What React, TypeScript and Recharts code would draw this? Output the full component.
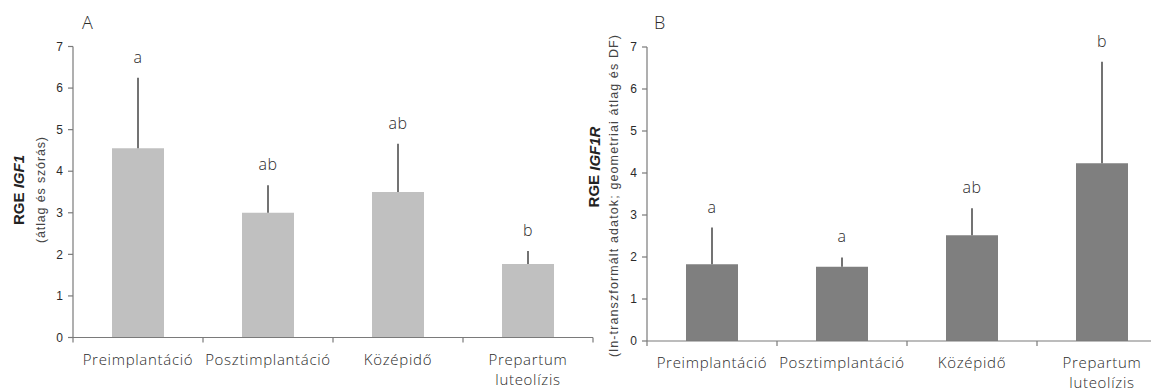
import React from "react";
import { BarChart, Bar, XAxis, YAxis, ErrorBar, LabelList, Label } from "recharts";

// Shared categories (line break marks a two-line tick label)
const categories = ["Preimplantáció", "Posztimplantáció", "Középidő", "Prepartum\nluteolízis"];
const yTicks = [0, 1, 2, 3, 4, 5, 6, 7];

// Panel A: IGF1 relative gene expression (mean and SD)
const igf1Mean = [4.55, 3.0, 3.5, 1.77];
const igf1Sd = [1.7, 0.66, 1.16, 0.31];
const igf1Letters = ["a", "ab", "ab", "b"];

// Panel B: IGF1R relative gene expression (geometric mean and upper DF)
const igf1rMean = [1.83, 1.77, 2.52, 4.23];
const igf1rUpper = [0.87, 0.22, 0.64, 2.42];
const igf1rLetters = ["a", "a", "ab", "b"];

const dataA = categories.map((c, i) => ({ cat: c, v: igf1Mean[i], err: [0, igf1Sd[i]], sig: igf1Letters[i] }));
const dataB = categories.map((c, i) => ({ cat: c, v: igf1rMean[i], err: [0, igf1rUpper[i]], sig: igf1rLetters[i] }));

const PLOT_W = 520;
const BAND = PLOT_W / categories.length;
const AXIS = "#7a7a7a";
const TEXT = "#2b2b2b";
const LABEL_FONT = "'Open Sans', 'Noto Sans', sans-serif";
const TICK_FONT = "'Liberation Sans', Arial, sans-serif";

const XTick = (props: any) => {
  const { x, y, payload, index } = props;
  const lines = String(payload.value).split("\n");
  const left = x - BAND / 2;
  const right = x + BAND / 2;
  return (
    <g>
      <line x1={left} x2={left} y1={y} y2={y + 5} stroke={AXIS} strokeWidth={1.2} />
      {index === categories.length - 1 && (
        <line x1={right} x2={right} y1={y} y2={y + 5} stroke={AXIS} strokeWidth={1.2} />
      )}
      {lines.map((l, k) => (
        <text
          key={k}
          x={x}
          y={y + 27 + k * 20}
          textAnchor="middle"
          fontFamily={LABEL_FONT}
          fontSize={15}
          fontWeight={300}
          letterSpacing={0.7}
          fill={TEXT}
        >
          {l}
        </text>
      ))}
    </g>
  );
};

// Significance letter drawn above the top of each error bar
const makeLetter = (means: number[], errs: number[]) => (props: any) => {
  const { x, y, width, height, value, index } = props;
  const pxPerUnit = height / means[index];
  const top = y - errs[index] * pxPerUnit;
  return (
    <text
      x={x + width / 2}
      y={top - 15}
      textAnchor="middle"
      fontFamily={LABEL_FONT}
      fontSize={16}
      fontWeight={300}
      letterSpacing={0.5}
      fill={TEXT}
    >
      {value}
    </text>
  );
};

const YTitle = ({ gene, note, mainX, mainY, subX, subY, subLen }: any) => (
  <g>
    <text
      x={mainX}
      y={mainY}
      transform={`rotate(-90 ${mainX} ${mainY})`}
      textAnchor="middle"
      dominantBaseline="central"
      fontFamily={TICK_FONT}
      fontSize={15}
      fontWeight={700}
      fill="#222"
    >
      RGE <tspan fontStyle="italic">{gene}</tspan>
    </text>
    <text
      x={subX}
      y={subY}
      transform={`rotate(-90 ${subX} ${subY})`}
      textAnchor="middle"
      dominantBaseline="central"
      fontFamily={TICK_FONT}
      fontSize={12.5}
      fill="#444"
      textLength={subLen}
      lengthAdjust="spacing"
    >
      {note}
    </text>
  </g>
);

const Panel = ({ data, means, errs, fill, top, bottom, title }: any) => (
  <BarChart
    width={73 + PLOT_W + 7}
    height={392}
    data={data}
    margin={{ top, right: 7, bottom: 0, left: 0 }}
    barCategoryGap="30%"
  >
    <XAxis
      dataKey="cat"
      interval={0}
      height={bottom}
      tickSize={0}
      tickMargin={0}
      tickLine={false}
      axisLine={{ stroke: AXIS, strokeWidth: 1.2 }}
      tick={<XTick />}
    />
    <YAxis
      width={73}
      domain={[0, 7]}
      ticks={yTicks}
      interval={0}
      tickSize={5}
      tickMargin={5}
      axisLine={{ stroke: AXIS, strokeWidth: 1.2 }}
      tickLine={{ stroke: AXIS, strokeWidth: 1.2 }}
      tick={{ fontFamily: TICK_FONT, fontSize: 12, fill: TEXT }}
    >
      <Label content={() => title} />
    </YAxis>
    <Bar dataKey="v" fill={fill} isAnimationActive={false}>
      <ErrorBar dataKey="err" direction="y" width={0} stroke="#454545" strokeWidth={1.5} />
      <LabelList dataKey="sig" content={makeLetter(means, errs)} />
    </Bar>
  </BarChart>
);

export default function App() {
  return (
    <div
      style={{
        position: "relative",
        marginLeft: -8,
        marginTop: -8,
        width: 1159,
        height: 392,
        overflow: "hidden",
        background: "#fff",
      }}
    >
      <div style={{ position: "absolute", left: 0, top: 0 }}>
        <Panel
          data={dataA}
          means={igf1Mean}
          errs={igf1Sd}
          fill="#c0c0c0"
          top={46.5}
          bottom={54.5}
          title={
            <YTitle
              gene="IGF1"
              note="(átlag és szórás)"
              mainX={18}
              mainY={190}
              subX={41}
              subY={190}
              subLen={106}
            />
          }
        />
      </div>
      <div style={{ position: "absolute", left: 573.5, top: 0 }}>
        <Panel
          data={dataB}
          means={igf1rMean}
          errs={igf1rUpper}
          fill="#7f7f7f"
          top={47}
          bottom={51}
          title={
            <YTitle
              gene="IGF1R"
              note="(ln-transzformált adatok; geometriai átlag és DF)"
              mainX={19.5}
              mainY={167}
              subX={39.5}
              subY={196}
              subLen={322}
            />
          }
        />
      </div>
      <div
        style={{
          position: "absolute",
          left: 82,
          top: 10,
          fontFamily: LABEL_FONT,
          fontWeight: 300,
          fontSize: 18,
          color: TEXT,
        }}
      >
        A
      </div>
      <div
        style={{
          position: "absolute",
          left: 654,
          top: 10,
          fontFamily: LABEL_FONT,
          fontWeight: 300,
          fontSize: 18,
          color: TEXT,
        }}
      >
        B
      </div>
    </div>
  );
}
